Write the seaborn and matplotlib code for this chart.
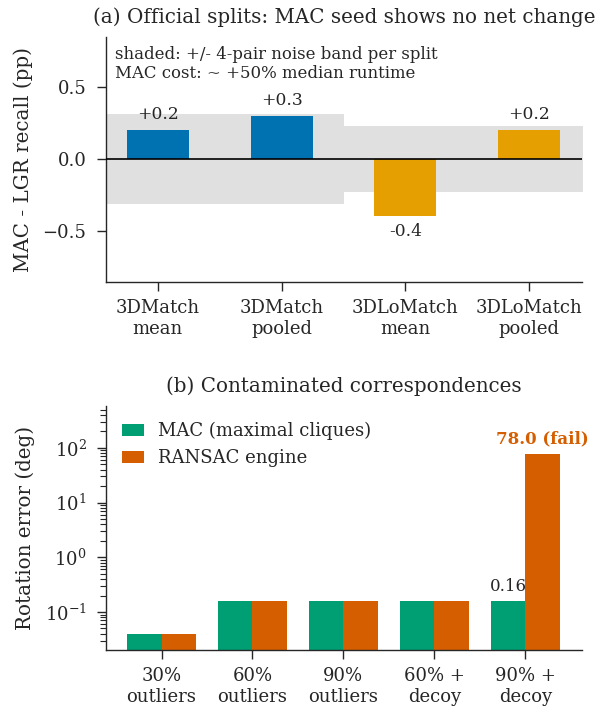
import matplotlib
matplotlib.use("Agg")
import matplotlib.pyplot as plt
from matplotlib.ticker import LogLocator, NullFormatter
import seaborn as sns
import pandas as pd
import numpy as np

# ---- data ----
splits = ["3DMatch\nmean", "3DMatch\npooled", "3DLoMatch\nmean", "3DLoMatch\npooled"]
delta_recall = [0.2, 0.3, -0.4, 0.2]
delta_labels = ["+0.2", "+0.3", "-0.4", "+0.2"]
split_colors = ["#0072B2", "#0072B2", "#E69F00", "#E69F00"]
noise_band = [0.3127, 0.2317]  # 3DMatch, 3DLoMatch

conditions = ["30%\noutliers", "60%\noutliers", "90%\noutliers", "60% +\ndecoy", "90% +\ndecoy"]
mac_err = [0.04, 0.16, 0.16, 0.16, 0.16]
ransac_err = [0.04, 0.16, 0.16, 0.16, 78.0]
methods = ["MAC (maximal cliques)", "RANSAC engine"]
method_colors = ["#009E73", "#D55E00"]

sns.set_theme(style="ticks")
plt.rcParams["font.family"] = ["DejaVu Serif"]
plt.rcParams.update({
    "mathtext.fontset": "dejavuserif",
    "axes.linewidth": 1.0,
    "xtick.major.size": 6.5, "ytick.major.size": 6.5,
    "ytick.minor.size": 4,
    "xtick.major.width": 1.0, "ytick.major.width": 1.0,
    "ytick.minor.width": 0.8,
    "xtick.major.pad": 6, "ytick.major.pad": 7.5,
    "xtick.labelsize": 13, "ytick.labelsize": 13,
    "axes.labelsize": 14.3, "axes.titlesize": 14.3,
})

fig = plt.figure(figsize=(5.95, 7.09), dpi=100)
ax1 = fig.add_axes([0.178, 0.6027, 0.800, 0.3456])
ax2 = fig.add_axes([0.178, 0.0832, 0.800, 0.3446])

# ---- panel (a) ----
dfa = pd.DataFrame({"split": splits, "delta": delta_recall})
ax1.fill_between([-0.5, 1.5], -noise_band[0], noise_band[0], color="black", alpha=0.12, lw=0, zorder=0)
ax1.fill_between([1.5, 3.5], -noise_band[1], noise_band[1], color="black", alpha=0.12, lw=0, zorder=0)
sns.barplot(data=dfa, x="split", y="delta", hue="split", palette=split_colors,
            width=0.5, legend=False, ax=ax1, saturation=1, linewidth=0, zorder=2)
ax1.axhline(0, color="black", lw=1.2, zorder=3)
for i, (v, lab) in enumerate(zip(delta_recall, delta_labels)):
    if v >= 0:
        ax1.annotate(lab, (i, v), xytext=(0, 5), textcoords="offset points",
                     ha="center", va="bottom", fontsize=12.3)
    else:
        ax1.annotate(lab, (i, v), xytext=(0, -4.5), textcoords="offset points",
                     ha="center", va="top", fontsize=12.3)
ax1.set_xlim(-0.42, 3.426)
ax1.set_ylim(-0.855, 0.85)
ax1.set_yticks([-0.5, 0.0, 0.5])
ax1.set_xlabel("")
ax1.set_ylabel("MAC - LGR recall (pp)", labelpad=7)
ax1.set_title("(a) Official splits: MAC seed shows no net change", pad=10)
ax1.text(0.019, 0.963, "shaded: +/- 4-pair noise band per split\nMAC cost: ~ +50% median runtime",
         transform=ax1.transAxes, ha="left", va="top", fontsize=11.9)
sns.despine(ax=ax1)

# ---- panel (b) ----
dfb = pd.DataFrame({
    "condition": conditions * 2,
    "err": mac_err + ransac_err,
    "method": [methods[0]] * len(conditions) + [methods[1]] * len(conditions),
})
sns.barplot(data=dfb, x="condition", y="err", hue="method", palette=method_colors,
            width=0.756, gap=0, ax=ax2, saturation=1, linewidth=0)
ax2.set_yscale("log")
ax2.yaxis.set_major_locator(LogLocator(base=10, numticks=10))
ax2.yaxis.set_minor_locator(LogLocator(base=10, subs=np.arange(2, 10), numticks=20))
ax2.yaxis.set_minor_formatter(NullFormatter())
ax2.tick_params(axis="y", which="minor", length=4, width=0.8, left=True)
ax2.set_ylim(0.0202, 590)
ax2.set_xlim(-0.612, 4.623)
ax2.set_xlabel("")
ax2.set_ylabel("Rotation error (deg)", labelpad=7)
ax2.set_title("(b) Contaminated correspondences", pad=10)
last = len(conditions) - 1
ax2.annotate(f"{mac_err[last]:.2f}", (last - 0.189, mac_err[last]), xytext=(0, 4.5),
             textcoords="offset points", ha="center", va="bottom", fontsize=12)
ax2.annotate(f"{ransac_err[last]:.1f} (fail)", (last + 0.189, ransac_err[last]), xytext=(0, 4.5),
             textcoords="offset points", ha="center", va="bottom", fontsize=12,
             fontweight="bold", color=method_colors[1])
leg = ax2.legend(loc="upper left", frameon=False, fontsize=13, handlelength=1.2,
                 handletextpad=0.8)
sns.despine(ax=ax2)

fig.savefig("out.png", dpi=100)
